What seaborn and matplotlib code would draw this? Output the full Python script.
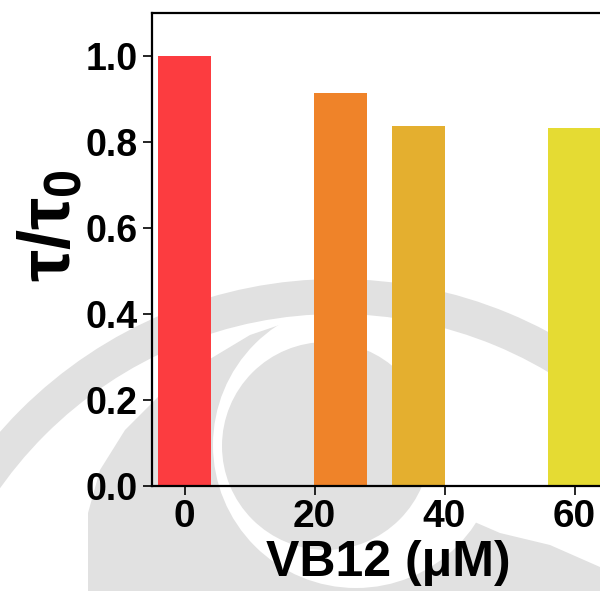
import numpy as np
import pandas as pd
import seaborn as sns
import matplotlib
matplotlib.use("Agg")
import matplotlib.pyplot as plt
from matplotlib.patches import Wedge, Circle, Polygon

# VB12 concentration (µM) and normalised lifetime tau/tau0
conc = [0, 24, 36, 60]
ratio = [1.0, 0.913, 0.838, 0.832]
bar_colors = ["#FC3C40", "#EF8329", "#E4AF2F", "#E5DB33"]
xticks = [0, 20, 40, 60]
yticks = [0.0, 0.2, 0.4, 0.6, 0.8, 1.0]

sns.set_theme(style="white")
plt.rcParams["font.family"] = ["Liberation Sans", "DejaVu Sans"]
plt.rcParams["font.weight"] = "bold"
plt.rcParams["mathtext.fontset"] = "custom"
plt.rcParams["mathtext.rm"] = "Liberation Sans:bold"
plt.rcParams["mathtext.it"] = "Liberation Sans:bold"
plt.rcParams["mathtext.bf"] = "Liberation Sans:bold"

W, H = 600, 591
fig = plt.figure(figsize=(W / 100, H / 100), dpi=100)

# light grey emblem behind the chart (pixel coordinates)
bg = fig.add_axes([0, 0, 1, 1], zorder=0)
bg.set_xlim(0, W)
bg.set_ylim(H, 0)
bg.axis("off")
grey = "#e1e1e1"
bg.add_patch(Polygon([(88, 591), (88, 513), (100, 470), (125, 430), (160, 395),
                      (200, 365), (250, 335), (300, 318), (400, 320), (440, 480),
                      (470, 520), (500, 533), (550, 545), (600, 567), (600, 591)],
                     closed=True, color=grey, lw=0))
bg.add_patch(Circle((356, 445), 143, color="white", lw=0))
bg.add_patch(Circle((326, 446), 104, color=grey, lw=0))
bg.add_patch(Wedge((337, 727), 448, 0, 360, width=35, color=grey, lw=0))

# main axes
left_px, right_px, top_px, bot_px = 152, 639.5, 13, 486
ax = fig.add_axes([left_px / W, 1 - bot_px / H, (right_px - left_px) / W,
                   (bot_px - top_px) / H], zorder=1)
ax.patch.set_alpha(0)

df = pd.DataFrame({"conc": conc, "ratio": ratio})
sns.barplot(data=df, x="conc", y="ratio", hue="conc", palette=bar_colors,
            native_scale=True, dodge=False, width=8.2 / 12, legend=False,
            saturation=1, linewidth=0, ax=ax)

ax.set_xlim(-5, 70)
ax.set_ylim(0, 1.1)
ax.set_xticks(xticks)
ax.set_xticklabels([str(v) for v in xticks])
ax.set_yticks(yticks)
ax.set_yticklabels([f"{v:.1f}" for v in yticks])

for s in ["left", "bottom", "top"]:
    ax.spines[s].set_visible(True)
    ax.spines[s].set_color("black")
    ax.spines[s].set_linewidth(1.6)
ax.spines["right"].set_visible(False)

ax.tick_params(axis="both", which="major", direction="out", length=6.5, width=1.2,
               color="black", bottom=True, left=True, labelcolor="black")
ax.tick_params(axis="x", labelsize=28, pad=3)
ax.tick_params(axis="y", labelsize=27, pad=4)
for lab in ax.get_xticklabels() + ax.get_yticklabels():
    lab.set_fontweight("bold")

ax.set_xlabel("VB12 (μM)", fontsize=36, fontweight="bold", color="black")
ax.set_ylabel(r"$τ/τ_0$", fontsize=52, color="black")
ax.xaxis.set_label_coords((388 - left_px) / (right_px - left_px), -0.115)
ax.yaxis.set_label_coords(-0.138, 0.55)

fig.savefig("out.png", dpi=100)
